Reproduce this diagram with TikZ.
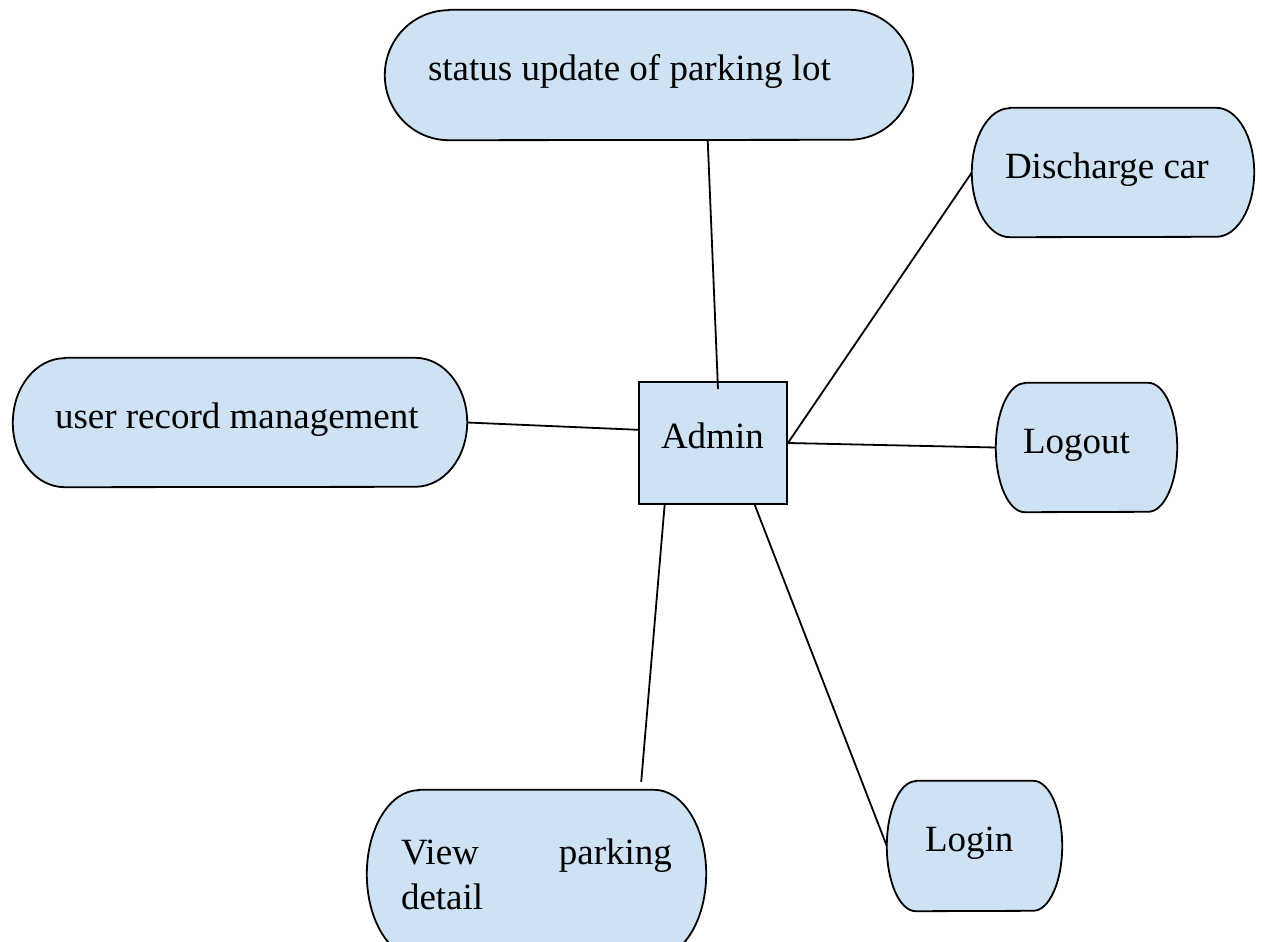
\documentclass[tikz,border=0pt]{standalone}
\usepackage{fontspec}
\setmainfont{Liberation Serif}
\usetikzlibrary{calc,backgrounds}
\definecolor{ucblue}{RGB}{207,226,243}
\tikzset{
  ucnode/.style={inner sep=0pt, minimum height=129pt, align=justify, text height=25pt, text depth=14pt, font=\fontsize{37}{45}\selectfont},
  ucline/.style={draw=black, line width=1.8pt, fill=ucblue},
  link/.style={line width=1.8pt}
}

\begin{document}
\begin{tikzpicture}[x=1pt,y=1pt]
\useasboundingbox (0,0) rectangle (1262,-942);
\clip (0,0) rectangle (1262,-942);
\node[ucnode, minimum width=528pt, minimum height=130pt, text width=442pt] (stat) at (649,-75) {status update of parking lot};
\node[ucnode, minimum width=282pt, text width=216pt] (disc) at (1113,-172.5) {Discharge car};
\node[ucnode, minimum width=454pt, text width=370pt] (user) at (240,-422.5) {user record management};
\node[ucnode, minimum width=181pt, text width=127pt] (logout) at (1086.5,-447.5) {Logout};
\node[ucnode, minimum width=175pt, minimum height=130pt, text width=99pt] (login) at (974.5,-846) {Login};
\node[ucnode, minimum width=339pt, minimum height=168pt, text width=271pt, text height={}, text depth={}] (view) at (536.5,-874) {View\hfill parking\\detail};
\node[ucnode, draw, line width=1.8pt, fill=ucblue, minimum width=148pt, minimum height=122pt, text width=104pt] (admin) at (713,-443) {Admin};
\begin{scope}[on background layer]
\foreach \nm/\rx/\ry in {stat/64/65, disc/38/64.5, user/52/64.5, logout/29/64.5, login/29/65, view/52/84}
  \draw[ucline] ($(\nm.north west)+(\rx,0)$) -- ($(\nm.north east)-(\rx,0)$)
    arc[start angle=90, end angle=-90, x radius=\rx, y radius=\ry]
    -- ($(\nm.south west)+(\rx,0)$)
    arc[start angle=270, end angle=90, x radius=\rx, y radius=\ry] -- cycle;
\end{scope}
\draw[link] (stat.-48) -- ($(admin.north)+(5,-8)$);
\draw[link] (user.east) -- (admin.170);
\draw[link] (disc.west) -- (admin.east);
\draw[link] (admin.east) -- (logout.west);
\draw[link] (admin.232) -- ($(view.north east)+(-65,8)$);
\draw[link] (admin.-56) -- (login.west);
\end{tikzpicture}
\end{document}
